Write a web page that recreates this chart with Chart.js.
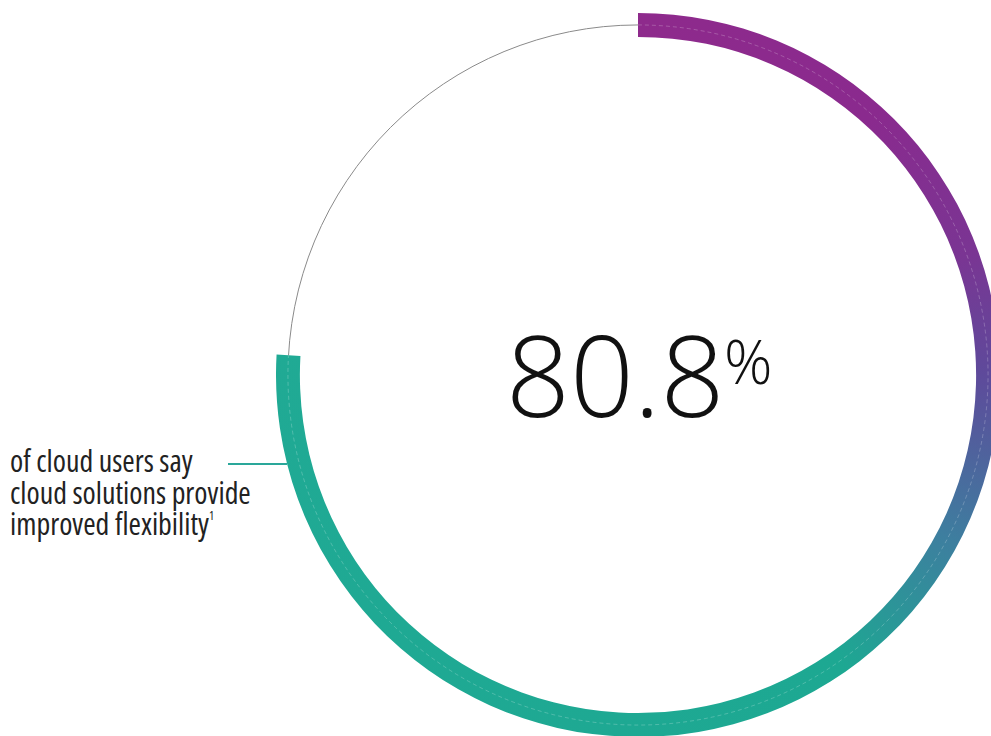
<!DOCTYPE html>
<html>
<head>
<meta charset="utf-8">
<script src="https://cdn.jsdelivr.net/npm/chart.js@4/dist/chart.umd.min.js"></script>
<style>
    html, body { margin: 0; padding: 0; width: 991px; height: 736px; overflow: hidden; background: #fff; }
    #wrap { position: absolute; left: 276px; top: 13px; width: 724px; height: 724px; }
    .txt { position: absolute; font-family: "Open Sans", sans-serif; color: #111; white-space: nowrap; }
    #big { left: 506px; top: 318px; font-size: 112px; line-height: 112px; font-weight: 300; font-stretch: 97%; }
    #pct { left: 724px; top: 330px; font-size: 60px; line-height: 62px; font-weight: 300; font-stretch: 90%; }
    #label { left: 10px; top: 445px; font-size: 30px; line-height: 31.5px; font-weight: 400; color: #222; font-stretch: 75%; }
    #label sup { font-size: 12px; vertical-align: 15px; line-height: 0; }
    #leader { position: absolute; left: 228px; top: 463px; width: 59px; height: 2px; background: #2aa79a; }
</style>
</head>
<body>
<div id="wrap"><canvas id="ring"></canvas></div>
<div class="txt" id="big"></div>
<div class="txt" id="pct">%</div>
<div class="txt" id="label"></div>
<div id="leader"></div>
<script>
// headline figure and the share of the ring that is drawn
const headline = 80.8;
const sliceLabels = ['Improved flexibility', 'Other'];
const sliceValues = [75.9, 24.1];
const labelLines = ['of cloud users say', 'cloud solutions provide', 'improved flexibility'];

document.getElementById('big').textContent = headline.toFixed(1);
document.getElementById('label').innerHTML =
    labelLines[0] + '<br>' + labelLines[1] + '<br>' + labelLines[2] + '<sup>1</sup>';

function ringGradient(context) {
    const chart = context.chart;
    const area = chart.chartArea;
    if (!area) return '#8e2a8c';
    const cx = (area.left + area.right) / 2;
    const cy = (area.top + area.bottom) / 2;
    const g = chart.ctx.createConicGradient(-Math.PI / 2, cx, cy);
    g.addColorStop(0, '#8e2a8c');
    g.addColorStop(0.117, '#8a2a8e');
    g.addColorStop(0.194, '#7a3593');
    g.addColorStop(0.25, '#5e4a9b');
    g.addColorStop(0.328, '#3d7f9f');
    g.addColorStop(0.403, '#1da892');
    g.addColorStop(1, '#22ab96');
    return g;
}

const thinCircle = {
    id: 'thinCircle',
    beforeDatasetsDraw(chart) {
        const arc = chart.getDatasetMeta(0).data[0];
        if (!arc) return;
        const r = (arc.innerRadius + arc.outerRadius) / 2;
        const ctx = chart.ctx;
        ctx.save();
        ctx.strokeStyle = '#8a8a8a';
        ctx.lineWidth = 1;
        ctx.beginPath();
        ctx.arc(arc.x, arc.y, r, 0, Math.PI * 2);
        ctx.stroke();
        ctx.restore();
    },
    afterDatasetsDraw(chart) {
        const arc = chart.getDatasetMeta(0).data[0];
        if (!arc) return;
        const r = (arc.innerRadius + arc.outerRadius) / 2;
        const ctx = chart.ctx;
        ctx.save();
        ctx.strokeStyle = 'rgba(255,255,255,0.22)';
        ctx.lineWidth = 1;
        ctx.setLineDash([4, 3]);
        ctx.beginPath();
        ctx.arc(arc.x, arc.y, r, arc.startAngle, arc.endAngle);
        ctx.stroke();
        ctx.restore();
    }
};

new Chart(document.getElementById('ring'), {
    type: 'doughnut',
    data: {
        labels: sliceLabels,
        datasets: [{
            data: sliceValues,
            backgroundColor: ctx => ctx.dataIndex === 0 ? ringGradient(ctx) : 'rgba(0,0,0,0)',
            borderWidth: 0
        }]
    },
    options: {
        responsive: true,
        maintainAspectRatio: false,
        animation: false,
        cutout: '93.4%',
        layout: { padding: 0 },
        plugins: {
            legend: { display: false },
            tooltip: { enabled: false }
        }
    },
    plugins: [thinCircle]
});
</script>
</body>
</html>
